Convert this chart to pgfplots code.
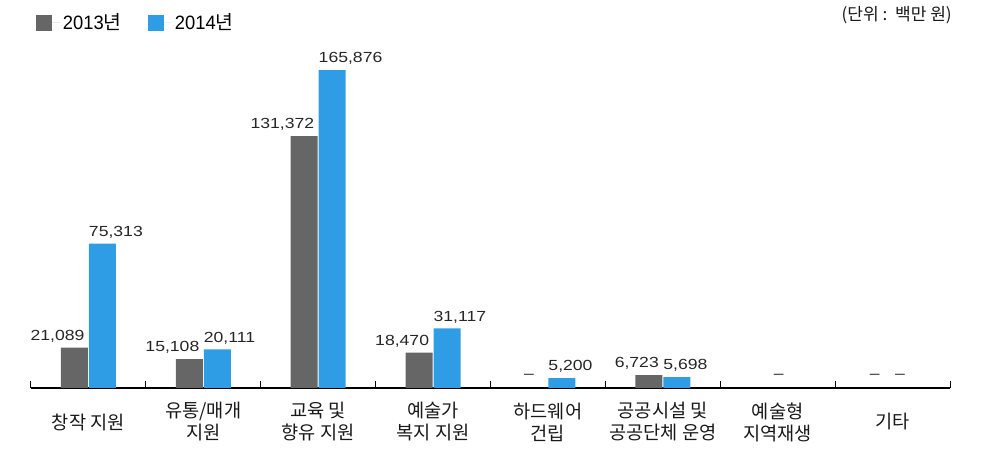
\documentclass[border=0pt]{standalone}
\usepackage{fontspec}
\usepackage{pgfplots}
\pgfplotsset{compat=1.18}
\setmainfont{Noto Sans CJK KR}
\newfontfamily\numfont[FakeStretch=1.2]{Liberation Sans}
\newfontfamily\legfont[FakeStretch=0.95]{Liberation Sans}
\definecolor{cA}{HTML}{666666}
\definecolor{cB}{HTML}{2F9DE5}
\begin{document}
\begin{tikzpicture}[x=0.75pt,y=0.75pt]
\begin{axis}[
  scale only axis, width=689.25pt, height=258.8pt,
  xmin=-0.5, xmax=7.5, ymin=0, ymax=180000,
  clip=false,
  axis x line=bottom, axis y line=none,
  axis line style={-, line width=1.25pt, black},
  ytick=\empty,
  xtick={0,...,7}, major tick length=0pt,
  xticklabels={창작 지원, {유통/매개\\지원}, {교육 및\\향유 지원}, {예술가\\복지 지원}, {하드웨어\\건립}, {공공시설 및\\공공단체 운영}, {예술형\\지역재생}, 기타},
  x tick label style={anchor=center, yshift=-25.5pt, align=center, font=\fontsize{14}{16.5}\selectfont, text=black!90},
  extra x ticks={-0.5,0.5,1.5,2.5,3.5,4.5,5.5,6.5,7.5},
  extra x tick labels={},
  extra x tick style={tick align=inside, major tick length=5.25pt, tick style={black, line width=0.75pt}},
  /pgf/number format/assume math mode=true,
  /pgf/number format/.cd, fixed, precision=0, 1000 sep={,}, /pgfplots/.cd,
  legend style={at={(0.0054,1.058)}, anchor=west, draw=none, fill=none,
    font=\fontsize{14.5}{16}\selectfont, inner sep=0pt,
    /tikz/every even column/.append style={column sep=18pt}},
  legend columns=2,
  legend image code/.code={\draw[#1, draw=none] (0pt,-6pt) rectangle (12pt,6pt); \path (0pt,0pt) -- (18pt,0pt);},
]
\addplot[ybar, bar width=20.25pt, bar shift=-10.5pt, fill=cA, draw=none,
  point meta=y,
  nodes near coords={\makebox[0pt][r]{\numfont\fontsize{11}{13}\selectfont\pgfmathprintnumber{\pgfplotspointmeta}}},
  every node near coord/.append style={inner sep=0pt, text depth=0pt, xshift=-3pt, yshift=5.25pt, text=black!85}]
  coordinates {(0,21089) (1,15108) (2,131372) (3,18470) (5,6723)};
\addplot[ybar, bar width=20.25pt, bar shift=10.5pt, fill=cB, draw=none,
  point meta=y,
  nodes near coords={\makebox[0pt][l]{\numfont\fontsize{11}{13}\selectfont\pgfmathprintnumber{\pgfplotspointmeta}}},
  every node near coord/.append style={inner sep=0pt, text depth=0pt, xshift=0.4pt, yshift=5.25pt, text=black!85}]
  coordinates {(0,75313) (1,20111) (2,165876) (3,31117) (4,5200) (5,5698)};
\addplot[forget plot, draw=none, mark=none,
  nodes near coords={\numfont\fontsize{11}{13}\selectfont –},
  every node near coord/.append style={inner sep=0pt, text depth=0pt, yshift=6.8pt, text=black!85}]
  coordinates {(3.835,0) (6.01,0) (6.845,0) (7.065,0)};
\legend{{\legfont 2013}년, {\legfont 2014}년}
\coordinate (BL) at (rel axis cs:0,0);
\end{axis}
\node[anchor=east, inner sep=0pt, font=\fontsize{12.8}{14}\selectfont, text=black!90] at ([shift={(921,373)}]BL) {(단위 :\ \ 백만 원)};
\pgfresetboundingbox
\useasboundingbox ([shift={(-31,-82)}]BL) rectangle ([shift={(975,388)}]BL);
\end{tikzpicture}
\end{document}
